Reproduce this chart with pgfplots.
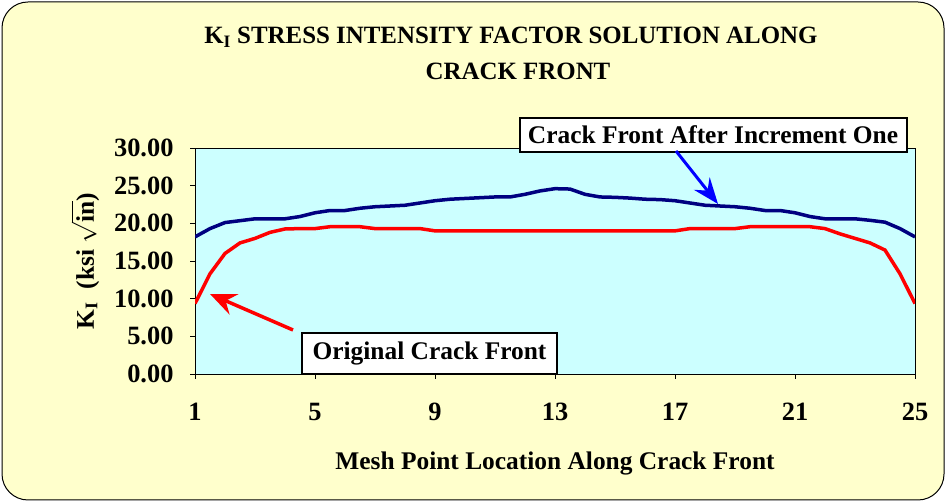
\documentclass[border=0pt]{standalone}
\usepackage{pgfplots}
\pgfplotsset{compat=1.18}
\usepackage{fontspec}
\setmainfont{Liberation Serif}
\usetikzlibrary{arrows.meta}

\definecolor{bgyellow}{HTML}{FFFFCC}
\definecolor{plotcyan}{HTML}{CCFFFF}
\definecolor{navy}{HTML}{000080}
\definecolor{arrowblue}{HTML}{0000FF}

\pgfplotstableread{
x y
1 18.2
1.5 19.3
2 20.1
2.5 20.35
3 20.6
3.5 20.6
4 20.6
4.5 20.9
5 21.4
5.5 21.7
6 21.7
6.5 22.0
7 22.2
7.5 22.3
8 22.4
8.5 22.7
9 23.0
9.5 23.2
10 23.3
10.5 23.4
11 23.5
11.5 23.5
12 23.85
12.5 24.3
13 24.6
13.5 24.55
14 23.85
14.5 23.5
15 23.45
15.5 23.35
16 23.2
16.5 23.15
17 23.0
17.5 22.7
18 22.4
18.5 22.3
19 22.2
19.5 22.0
20 21.7
20.5 21.7
21 21.4
21.5 20.9
22 20.6
22.5 20.6
23 20.6
23.5 20.4
24 20.15
24.5 19.3
25 18.2
}\incrementone

\pgfplotstableread{
x y
1 9.35
1.5 13.3
2 16.0
2.5 17.4
3 18.0
3.5 18.8
4 19.25
4.5 19.3
5 19.3
5.5 19.55
6 19.55
6.5 19.55
7 19.3
7.5 19.3
8 19.3
8.5 19.3
9 19.0
9.5 19.0
10 19.0
10.5 19.0
11 19.0
11.5 19.0
12 19.0
12.5 19.0
13 19.0
13.5 19.0
14 19.0
14.5 19.0
15 19.0
15.5 19.0
16 19.0
16.5 19.0
17 19.0
17.5 19.3
18 19.3
18.5 19.3
19 19.3
19.5 19.55
20 19.55
20.5 19.55
21 19.55
21.5 19.55
22 19.3
22.5 18.6
23 18.0
23.5 17.4
24 16.45
24.5 13.3
25 9.35
}\original

\begin{document}
\begin{tikzpicture}[x=1bp,y=1bp]
\useasboundingbox (0,0) rectangle (945,502);
% chart area
\draw[rounded corners=26bp, fill=bgyellow, line width=1bp] (2,2) rectangle (944,500);

% title
\node[font=\fontsize{25}{25}\selectfont\bfseries] at (511,465)
  {K\textsubscript{I} STRESS INTENSITY FACTOR SOLUTION ALONG};
\node[font=\fontsize{25}{25}\selectfont\bfseries] at (518,431) {CRACK FRONT};

\begin{axis}[
    at={(195bp,128bp)}, anchor=south west,
    width=720bp, height=226bp, scale only axis,
    xmin=1, xmax=25, ymin=0, ymax=30,
    xtick={1,5,...,25},
    ytick={0,5,...,30},
    tick align=outside, tick pos=left,
    major tick length=5bp,
    axis line style={line width=0.8bp},
    tick style={line width=0.8bp, black},
    axis background/.style={fill=plotcyan},
    /pgf/number format/assume math mode=true,
    ticklabel style={font=\fontsize{26.5}{26.5}\selectfont\bfseries},
    yticklabel={\pgfmathprintnumber[fixed,fixed zerofill,precision=2]{\tick}},
    xticklabel style={yshift=-21bp},
    yticklabel style={xshift=-13bp},
    xlabel={Mesh Point Location Along Crack Front},
    ylabel={K\textsubscript{I}\ \ (ksi $\sqrt{\textbf{in}}$)},
    label style={font=\fontsize{25.5}{25.5}\selectfont\bfseries},
    xlabel style={at={(rel axis cs:0.5,0)}, anchor=center, yshift=-89bp},
    ylabel style={at={(rel axis cs:0,0.5)}, anchor=center, rotate=0, yshift=110bp},
]
\addplot[navy, line width=3.5bp] table[x=x,y=y] {\incrementone};
\addplot[red, line width=3.5bp] table[x=x,y=y] {\original};
\end{axis}

% annotations
\draw[line width=1.2bp, fill=white] (520,350) rectangle (907,384);
\node[font=\fontsize{25.5}{25.5}\selectfont\bfseries] at (713,367) {Crack Front After Increment One};
\draw[line width=1.2bp, fill=white] (302,128) rectangle (557,169);
\node[font=\fontsize{25.5}{25.5}\selectfont\bfseries] at (429.5,149) {Original Crack Front};

\draw[arrowblue, line width=3bp, -{Stealth[length=26bp,width=20bp,inset=9bp]}] (676,351) -- (718,298);
\draw[red, line width=3.5bp, -{Stealth[length=26bp,width=22bp,inset=9bp]}] (293,172) -- (210,208);
\end{tikzpicture}
\end{document}
